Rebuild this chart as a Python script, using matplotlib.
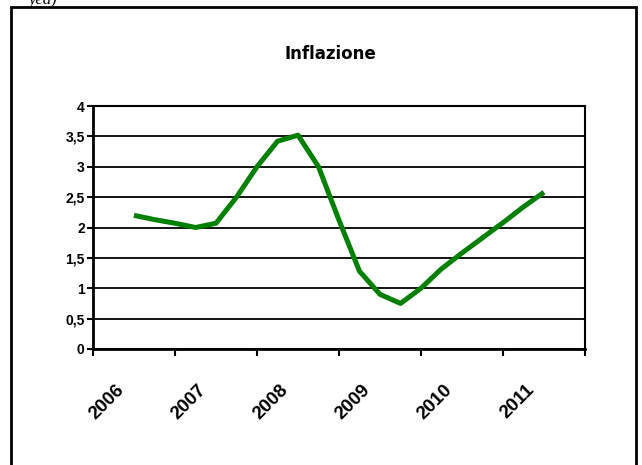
import matplotlib
matplotlib.use("Agg")
import matplotlib.pyplot as plt
from matplotlib.patches import Rectangle
from matplotlib.ticker import FuncFormatter

# ---- data ----
title = "Inflazione"
years = ["2006", "2007", "2008", "2009", "2010", "2011"]
# positions in years after the 2006 category centre (quarterly readings)
t_pos = [0.0, 0.25, 0.5, 0.75, 1.0, 1.25, 1.5, 1.75, 2.0, 2.25, 2.5, 2.75,
         3.0, 3.25, 3.5, 3.75, 4.0, 4.25, 4.5, 4.75, 5.0]
inflazione = [2.2, 2.13, 2.07, 2.0, 2.07, 2.5, 3.0, 3.42, 3.52, 3.0, 2.12, 1.28,
              0.9, 0.75, 1.0, 1.32, 1.58, 1.83, 2.08, 2.34, 2.58]
y_ticks = [0, 0.5, 1, 1.5, 2, 2.5, 3, 3.5, 4]

W, H = 642, 465
fig = plt.figure(figsize=(W / 100, H / 100), dpi=100)
fig.patch.set_facecolor("white")

# outer frame
fig.patches.append(Rectangle((11 / W, -0.02), (636 - 11) / W, 1.02 - 7 / H,
                             transform=fig.transFigure, fill=False,
                             edgecolor="black", linewidth=2.0))
fig.text(0.045, 1.0, "yea)", fontsize=12, style="italic",
         family="Liberation Serif", va="center", ha="left")

left, right, top, bottom = 93, 585, 106, 349
ax = fig.add_axes([left / W, 1 - bottom / H, (right - left) / W, (bottom - top) / H])

x_vals = [t + 0.5 for t in t_pos]
ax.plot(x_vals, inflazione, color="#008000", linewidth=3.6,
        solid_joinstyle="round", solid_capstyle="butt", zorder=3)

ax.set_xlim(0, len(years))
ax.set_ylim(0, 4)
ax.set_yticks(y_ticks)
ax.yaxis.set_major_formatter(FuncFormatter(
    lambda v, p: (f"{v:g}").replace(".", ",")))
ax.set_xticks(range(len(years) + 1))
ax.set_xticklabels([])

for lab in ax.get_yticklabels():
    lab.set_fontfamily("Liberation Sans")
    lab.set_fontweight("bold")
    lab.set_fontsize(10)

ax.tick_params(axis="y", direction="out", length=4, width=1.5, pad=2)
ax.tick_params(axis="x", direction="out", length=5, width=1.5)
ax.grid(axis="y", color="black", linewidth=1.3)
ax.set_axisbelow(True)
for s in ax.spines.values():
    s.set_color("black")
    s.set_linewidth(1.5)
ax.spines["left"].set_linewidth(2)
ax.spines["bottom"].set_linewidth(2)

for i, yr in enumerate(years):
    ax.annotate(yr, xy=(i + 0.5, 0), xycoords=("data", "axes fraction"),
                xytext=(-12, -38), textcoords="offset pixels",
                rotation=45, ha="right", va="center", rotation_mode="anchor",
                fontsize=13.5, fontweight="bold", family="Liberation Sans")

fig.text(330 / W, 1 - 54 / H, title, ha="center", va="center",
         fontsize=12, fontweight="bold", family="DejaVu Sans")

fig.savefig("out.png", dpi=100)
